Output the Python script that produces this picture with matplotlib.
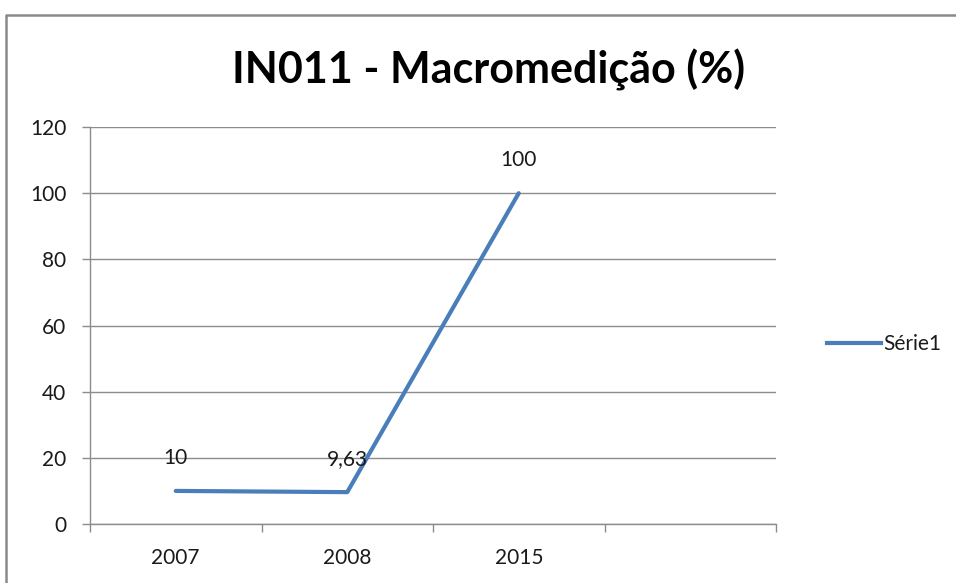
import matplotlib
matplotlib.use("Agg")
import matplotlib.pyplot as plt
from matplotlib.lines import Line2D

# data
years = ["2007", "2008", "2015", ""]
values = [10, 9.63, 100]
value_labels = ["10", "9,63", "100"]
series_name = "Série1"
title = "IN011 - Macromedição (%)"

plt.rcParams["font.family"] = ["Lato", "DejaVu Sans"]

line_color = "#4A7EBB"
grid_color = "#8C8C8C"
text_color = "#1A1A1A"

fig = plt.figure(figsize=(9.56, 5.83), dpi=100)

# outer chart border: only top and left edges are visible in the crop
border_top = 1 - 14.5 / 583
border_left = 5.5 / 956
fig.add_artist(Line2D([border_left, border_left, 1.0], [0.0, border_top, border_top],
                      transform=fig.transFigure, color="#8A8A8A", linewidth=1.8))

ax = fig.add_axes([90 / 956, 59 / 583, 686 / 956, 397 / 583])

x = list(range(len(values)))
ax.plot(x, values, color=line_color, linewidth=3.0, solid_capstyle="round",
        solid_joinstyle="round")

for xi, v, lab in zip(x, values, value_labels):
    ax.annotate(lab, (xi, v), xytext=(0, 24), textcoords="offset points",
                ha="center", va="center", fontsize=15, color=text_color)

ax.set_ylim(0, 120)
ax.set_yticks(range(0, 121, 20))
ax.set_xlim(-0.5, len(years) - 0.5)
ax.set_xticks(range(len(years)))
ax.set_xticklabels(years)
ax.set_xticks([i - 0.5 for i in range(len(years) + 1)], minor=True)

ax.grid(axis="y", color=grid_color, linewidth=1.0)
ax.set_axisbelow(True)

for s in ["top", "right"]:
    ax.spines[s].set_visible(False)
for s in ["left", "bottom"]:
    ax.spines[s].set_color(grid_color)
    ax.spines[s].set_linewidth(1.0)

ax.tick_params(axis="y", length=6, width=1.0, color=grid_color,
               labelsize=15, labelcolor=text_color, pad=11)
ax.tick_params(axis="x", which="major", length=0, labelsize=15,
               labelcolor=text_color, pad=17)
ax.tick_params(axis="x", which="minor", length=6, width=1.0, color=grid_color)

fig.text(0.511, 0.880, title, ha="center", va="center", fontsize=31,
         fontweight="bold", color="#000000")

fig.legend([Line2D([0], [0], color=line_color, linewidth=3.0)], [series_name],
           loc="center left", bbox_to_anchor=(808 / 956, 1 - 344 / 583),
           frameon=False, fontsize=15, handlelength=2.6, handletextpad=0.1,
           labelcolor=text_color)

fig.savefig("out.png", dpi=100)
